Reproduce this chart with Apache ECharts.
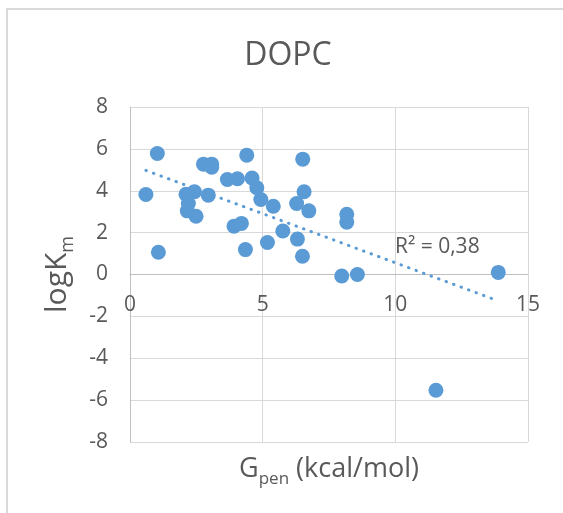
<!DOCTYPE html>
<html>
<head>
<meta charset="utf-8">
<script src="https://cdn.jsdelivr.net/npm/echarts@6/dist/echarts.min.js"></script>
<style>
  html, body { margin: 0; padding: 0; background: #fff; }
  #chart { width: 563px; height: 513px; }
</style>
</head>
<body>
<div id="chart"></div>
<script>
// G_pen (kcal/mol) and logKm
var gpen = [0.60, 1.03, 1.07, 2.11, 2.43, 2.20, 2.16, 2.49, 2.77, 3.08, 3.08, 2.95,
  3.67, 4.05, 4.40, 4.60, 4.78, 4.93, 5.40, 3.92, 4.20, 4.35, 5.18, 5.76,
  6.28, 6.31, 6.51, 6.56, 6.74, 6.50, 8.17, 8.17, 7.98, 8.57, 13.88, 11.53]
var logkm = [3.82, 5.78, 1.06, 3.83, 3.95, 3.39, 3.04, 2.78, 5.27, 5.27, 5.12, 3.79,
  4.54, 4.57, 5.70, 4.61, 4.14, 3.58, 3.26, 2.31, 2.44, 1.19, 1.53, 2.08,
  3.39, 1.69, 5.51, 3.95, 3.04, 0.87, 2.88, 2.50, -0.07, 0.00, 0.10, -5.53]
var xTicks = [0, 5, 10, 15]
var yTicks = [-8, -6, -4, -2, 0, 2, 4, 6, 8]
var r2Text = 'R² = 0,38'

var points = gpen.map(function (x, i) { return [x, logkm[i]] })

// linear trendline (least squares), drawn over the data range like Excel
function trend(xs, ys) {
  var n = xs.length, sx = 0, sy = 0, sxx = 0, sxy = 0
  for (var i = 0; i < n; i++) {
    sx += xs[i]; sy += ys[i]; sxx += xs[i] * xs[i]; sxy += xs[i] * ys[i]
  }
  var b = (n * sxy - sx * sy) / (n * sxx - sx * sx)
  var a = (sy - b * sx) / n
  var x0 = Math.min.apply(null, xs), x1 = Math.max.apply(null, xs)
  return [[x0, a + b * x0], [x1, a + b * x1]]
}
var trendLine = trend(gpen, logkm)

var font = '"Open Sans", sans-serif'
var textColor = '#595959'

var gridTop = 107, gridBottom = 71, chartH = 513
var yMin = yTicks[0], yMax = yTicks[yTicks.length - 1]
// x axis crosses at y = 0 like in Excel: lift it from the bottom of the grid
var plotH = chartH - gridTop - gridBottom
var zeroLift = (0 - yMin) / (yMax - yMin) * plotH

var myChart = echarts.init(document.getElementById('chart'))
var option = {
  animation: false,
  title: {
    text: 'DOPC',
    left: 283,
    top: 35,
    textAlign: 'center',
    textStyle: { fontFamily: font, fontSize: 32, fontWeight: 'normal', color: textColor }
  },
  graphic: [
    {
      type: 'rect',
      shape: { x: 7, y: 9, width: 700, height: 700 },
      style: { fill: 'none', stroke: '#d9d9d9', lineWidth: 2 },
      silent: true
    },
    {
      type: 'text',
      left: 395,
      top: 237,
      style: { text: r2Text, fontFamily: font, fontSize: 21, fill: textColor }
    }
  ],
  grid: { left: 130, top: gridTop, right: 35, bottom: gridBottom, containLabel: false, outerBoundsMode: 'none' },
  xAxis: {
    type: 'value',
    min: xTicks[0],
    max: xTicks[xTicks.length - 1],
    interval: 5,
    offset: -zeroLift,
    axisLine: { onZero: false, lineStyle: { color: '#bfbfbf', width: 1 } },
    axisTick: { show: false },
    axisLabel: { margin: 20, fontFamily: font, fontSize: 21, color: textColor },
    splitLine: { lineStyle: { color: '#d9d9d9', width: 1 } },
    name: '{a|G}{b|pen}{a| (kcal/mol)}',
    nameLocation: 'middle',
    nameGap: 181,
    nameTextStyle: {
      rich: {
        a: { fontFamily: font, fontSize: 27, color: textColor, verticalAlign: 'bottom', padding: [0, 0, 5, 0] },
        b: { fontFamily: font, fontSize: 17, color: textColor, verticalAlign: 'bottom' }
      }
    }
  },
  yAxis: {
    type: 'value',
    min: yMin,
    max: yMax,
    interval: 2,
    axisLine: { show: true, onZero: false, lineStyle: { color: '#bfbfbf', width: 1 } },
    axisTick: { show: false },
    axisLabel: { margin: 22, fontFamily: font, fontSize: 21, color: textColor },
    splitLine: { lineStyle: { color: '#d9d9d9', width: 1 } },
    name: '{a|logK}{b|m}',
    nameLocation: 'middle',
    nameRotate: 90,
    nameGap: 53,
    nameTextStyle: {
      rich: {
        a: { fontFamily: font, fontSize: 30, color: textColor, verticalAlign: 'bottom', padding: [0, 0, 5, 0] },
        b: { fontFamily: font, fontSize: 18, color: textColor, verticalAlign: 'bottom' }
      }
    }
  },
  series: [
    {
      type: 'scatter',
      data: points,
      symbolSize: 15,
      itemStyle: { color: '#5b9bd5', opacity: 1 },
      z: 3
    },
    {
      type: 'line',
      data: trendLine,
      symbol: 'none',
      lineStyle: { color: '#5b9bd5', width: 3, type: [0.5, 7.5], cap: 'round' },
      z: 2
    }
  ]
}
myChart.setOption(option)
</script>
</body>
</html>
